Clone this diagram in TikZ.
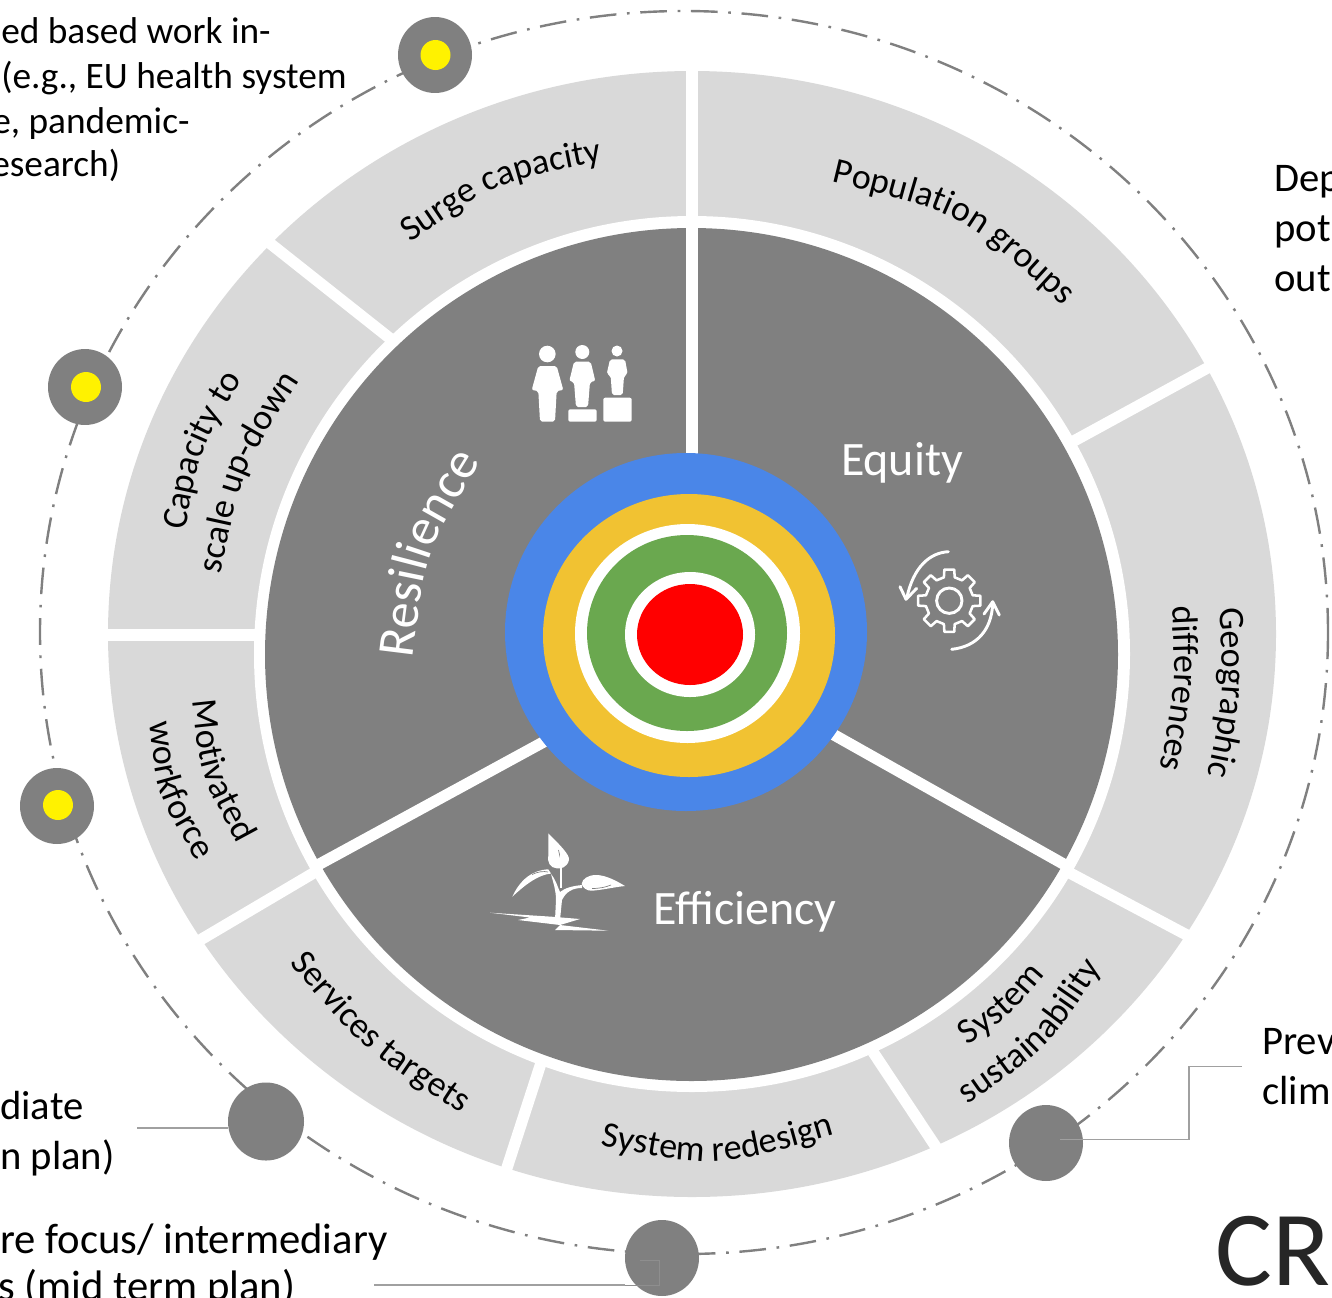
\documentclass[tikz,border=0pt]{standalone}
\usepackage{fontspec}
\setmainfont{Carlito}
\usetikzlibrary{decorations.text,shapes.geometric}
\definecolor{dk}{HTML}{808080}
\definecolor{lt}{HTML}{D9D9D9}
\definecolor{bl}{HTML}{4A86E8}
\definecolor{ye}{HTML}{F1C232}
\definecolor{gr}{HTML}{6AA84F}
\definecolor{conn}{HTML}{A0A0A0}
\definecolor{connin}{HTML}{8E8E8E}
\newcommand{\Fb}{\fontsize{27}{30}\selectfont}
\newcommand{\Fw}{\color{white}\fontsize{39}{42}\selectfont}
\tikzset{
  arctext/.style={decorate,decoration={text along path,text={#1},text align=center}},
  gap/.style={white,line width=8.5pt},
  ringnode/.style={ellipse,fill=dk,inner sep=0pt,minimum width=#1*0.75pt,minimum height=#1*0.77pt},
  dotmark/.style={fill=yellow},
  lbl/.style={anchor=base west,inner sep=0pt,font=\fontsize{30.5}{34}\selectfont,text=black},
  lblwide/.style={anchor=base west,inner sep=0pt,font=\fontsize{32}{36}\selectfont,text=black},
  lblsmall/.style={anchor=base west,inner sep=0pt,font=\fontsize{28}{32}\selectfont,text=black},
  wtxt/.style={inner sep=0pt,text=white,font=\fontsize{36}{40}\selectfont},
  wire/.style={conn,line width=1.1pt},
  icon/.style={fill=white,draw=none},
  iconline/.style={white,line width=2.2pt,line cap=round,line join=round,fill=none},
}
\begin{document}
\begin{tikzpicture}[x=0.75pt,y=-0.75pt]
\useasboundingbox (0,0) rectangle (1332,1297);
\clip (0,0) rectangle (1332,1297);
\fill[white] (0,0) rectangle (1332,1297);
% outer band
\fill[lt] (692,634) ellipse [x radius=584,y radius=563];
\fill[white] (692,654) circle (438);
% band separators
\draw[gap] (692,60) -- (692,222);
\draw[gap] (262,237) -- (392,340);
\draw[gap] (95,635) -- (258,635);
\draw[gap] (190,946) -- (322,868);
\draw[gap] (503,1180) -- (542,1060);
\draw[gap] (942,1156) -- (873,1052);
\draw[gap] (1200,942) -- (1068,872);
\draw[gap] (1222,360) -- (1072,442);
% wheel
\fill[dk] (691.5,654.5) circle (426.5);
\draw[gap] (692,225) -- (692,470);
\draw[gap] (560,733) -- (316,866);
\draw[gap] (820,727) -- (1067,866);
% centre rings
\fill[bl] (686,632) ellipse [x radius=181,y radius=179];
\fill[ye] (689,635.5) ellipse [x radius=146,y radius=141.5];
\fill[white] (687.5,633.5) ellipse [x radius=112.5,y radius=109.5];
\fill[gr] (687,633) ellipse [x radius=100,y radius=98];
\fill[white] (690,634.5) ellipse [x radius=65,y radius=62.5];
\fill[red] (690,634.5) ellipse [x radius=53,y radius=50.5];
% dashed ring
\draw[dk,line width=1.8pt,dash pattern=on 20pt off 8pt on 2pt off 8pt] (684,632.5) ellipse [x radius=644,y radius=621.5];
% ring nodes
\node[ringnode=74] (n1) at (435,55) {};
\node[ringnode=74] (n2) at (85,387) {};
\node[ringnode=74] (n3) at (57,806) {};
\node[ringnode=76] (n4) at (266,1121.5) {};
\node[ringnode=74] (n5) at (662,1258) {};
\node[ringnode=74] (n6) at (1046,1143) {};
\fill[dotmark] (435.5,55) circle (15);
\fill[dotmark] (86,387) circle (15);
\fill[dotmark] (58,805) circle (15);
% connectors
\coordinate (w4) at (137,1128);
\draw[wire] (w4) -- (n4.west |- w4);
\coordinate (w5) at (374,1285);
\coordinate (w5a) at (659,1285);
\coordinate (w5b) at (659,1260);
\coordinate (w5c) at (640,1260);
\draw[wire] (w5) -- (n5.west |- w5);
\draw[connin,line width=.6pt] (n5.west |- w5) -- (w5a) -- (w5b) -- (w5c);
\coordinate (w6) at (1060,1139.5);
\coordinate (w6a) at (1189,1139.5);
\coordinate (w6b) at (1189,1066.5);
\coordinate (w6c) at (1242,1066.5);
\draw[wire] (w6) -- (w6a) -- (w6b) -- (w6c);
% band labels
\path[arctext={|\Fb|Surge capacity}] (408,244) .. controls (497,182) .. (605,161);
\path[arctext={|\Fb|Population groups}] (833,182) .. controls (962,213) .. (1062,305);
\path[arctext={|\Fb|Capacity to}] (185,531) .. controls (200,450) .. (242,379);
\path[arctext={|\Fb|scale up-down}] (222,569) .. controls (242,470) .. (297,385);
\path[arctext={|\Fb|Motivated}] (192,696) .. controls (200,774) .. (240,848);
\path[arctext={|\Fb|workforce}] (149,717) .. controls (157,795) .. (200,866);
\path[arctext={|\Fb|Services targets}] (291,965) .. controls (364,1050) .. (459,1112);
\path[arctext={|\Fb|System redesign}] (595,1145) .. controls (718,1168) .. (840,1133);
\path[arctext={|\Fb|System}] (972,1042) .. controls (1011,1015) .. (1042,979);
\path[arctext={|\Fb|sustainability}] (968,1104) .. controls (1047,1049) .. (1101,969);
\path[arctext={|\Fb|Geographic}] (1219,606) .. controls (1225,693) .. (1207,778);
\path[arctext={|\Fb|differences}] (1172,606) .. controls (1176,688) .. (1160,769);
% wheel labels
\path[arctext={|\Fw|Resilience}] (414,649) .. controls (426,552) .. (476,470);
\node[wtxt] (eq) at (902,463) {Equity};
\node[wtxt] (ef) at (745,912) {Efficiency};
% people icon
\fill[icon] (547.3,354) circle (8.3);
\fill[icon,rounded corners=1.5pt] (538.3,366) -- (556.7,366) -- (563.3,390) -- (556.7,391) -- (555,421.5) -- (540,421.5) -- (538.3,391) -- (531.7,390) -- cycle;
\fill[icon] (582.3,352) circle (7);
\fill[icon,rounded corners=1.5pt] (574,361.7) -- (590.7,361.7) -- (595.3,381) -- (590,382) -- (588,407) -- (576,407) -- (574,382) -- (569.3,381) -- cycle;
\fill[icon,rounded corners=1.5pt] (568.3,409.3) rectangle (596.7,421.7);
\fill[icon] (617,351) circle (5.5);
\fill[icon,rounded corners=1.5pt] (610,359.3) -- (625,359.3) -- (627.7,374) -- (624,376) -- (622.7,395) -- (612,395) -- (610.7,376) -- (606.7,374) -- cycle;
\fill[icon,rounded corners=1.5pt] (603.3,397.7) rectangle (631.7,421.7);
% gear icon
\draw[iconline] (949.3,600.7) circle (12.7);
\begin{scope}[shift={(949.3,600.7)}]
\draw[iconline,line width=1.9pt] (-13:24) \foreach \a in {0,45,...,315} { -- (\a-13:24) -- (\a-9:31.5) -- (\a+9:31.5) -- (\a+13:24) } -- cycle;
\end{scope}
\draw[iconline] (948.3,551.7) .. controls (930,552.7) and (913.3,566.7) .. (906.7,598.3);
\draw[iconline] (900,586.7) -- (906,599.3) -- (916.7,588.3);
\draw[iconline] (951.7,649.3) .. controls (976.7,646.7) and (991.7,630) .. (992.7,603.3);
\draw[iconline] (984,614) -- (992.7,601.7) -- (999.3,615);
% plant icon
\fill[icon] (548.3,833.3) .. controls (560,845) and (570,855) .. (569,860) .. controls (567,868) and (560,869) .. (556.7,868.3) .. controls (550,868) and (547,862) .. (548.3,855) -- cycle;
\draw[dk,line width=.5pt] (558.5,850) -- (561.5,863);
\fill[icon] (512.3,896.7) .. controls (520,880) and (532,870) .. (548.3,869.3) -- (551,873.5) .. controls (538,875) and (526,884) .. cycle;
\draw[dk,line width=.5pt] (532,874.5) .. controls (538,871.5) and (544,871) .. (548,872);
\fill[icon] (625,886) .. controls (612,878) and (603,875) .. (596,875) .. controls (588,875) and (582,879) .. (581.7,884) .. controls (583,888) and (587,891) .. (592,890.7) .. controls (602,890) and (615,887) .. cycle;
\draw[dk,line width=.5pt] (592,888.5) .. controls (600,888.5) and (606,887) .. (611,885);
\draw[white,line width=0.9pt] (561,853) -- (561,888);
\fill[icon] (551,874) .. controls (556,880) and (558,888) .. (560,892) .. controls (565,888) and (572,886) .. (582,885) -- (582,888) .. controls (572,888) and (566,892) .. (562,900) -- (560,920) -- (555,920) -- (556,900) .. controls (556,890) and (553,882) .. cycle;
\fill[icon] (490,912.7) -- (551.7,916.7) -- (580,919) -- (560,925) -- (608.3,930.7) -- (555,930) -- (560,925) -- (518,920) -- (530,917.5) -- cycle;
% side texts
\node[lblsmall] (t1) at (1,43) {ed based work in-};
\node[lblsmall] (t2) at (1,88) {(e.g., EU health system};
\node[lblsmall] (t3) at (-8,133) {e, pandemic-};
\node[lblsmall] (t4) at (-9,176) {esearch)};
\node[lbl] (t5) at (1274,191) {Dep};
\node[lbl] (t6) at (1274,241) {pot};
\node[lbl] (t7) at (1274,291) {out};
\node[lbl] (t8) at (1262,1054) {Prev};
\node[lbl] (t9) at (1262,1104) {clim};
\node[lbl] (t10) at (0,1119) {diate};
\node[lbl] (t11) at (0,1169) {n plan)};
\node[lblwide] (t12) at (0,1253) {re focus/ intermediary};
\node[lblwide] (t13) at (-2,1300) {s (mid term plan)};
\node[anchor=base west,inner sep=0pt,font=\fontsize{80}{90}\selectfont,text={rgb,255:red,38;green,38;blue,38}] (t14) at (1215,1285) {CR};
\end{tikzpicture}
\end{document}
